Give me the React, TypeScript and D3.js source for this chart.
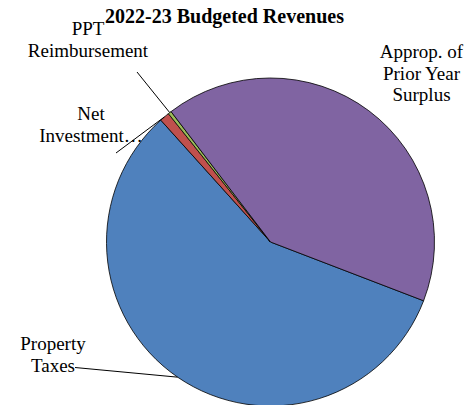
import React from "react";
import * as d3 from "d3";

const categories = ["Property Taxes", "Net Investment", "PPT Reimbursement", "Approp. of Prior Year Surplus"];
const values = [57.5, 0.97, 0.33, 41.2];
const colors = ["#4F81BD", "#C0504D", "#9BBB59", "#8064A2"];
const labelLines = [["Property", "Taxes"], ["Net", "Investment\u2026"], ["PPT", "Reimbursement"], ["Approp. of", "Prior Year", "Surplus"]];

const W = 470, H = 405;
const cx = 270.5, cy = 242, R = 164;
const startDeg = 111;
const FONT = "'Liberation Serif', 'Times New Roman', serif";

// label layout: center x, first baseline, leader start
const labelPos = [
  { x: 53, y: 350, lx: 75, ly: 367.5 },
  { x: 91, y: 120, lx: 116, ly: 153 },
  { x: 88, y: 35, lx: 137, ly: 72 },
  { x: 421.5, y: 58, lx: null, ly: null },
];

export default function App() {
  const pie = d3
    .pie<number>()
    .sort(null)
    .value((d) => d)
    .startAngle((startDeg * Math.PI) / 180)
    .endAngle(((startDeg + 360) * Math.PI) / 180);
  const arcs = pie(values);
  const arc = d3.arc<d3.PieArcDatum<number>>().innerRadius(0).outerRadius(R);

  return (
    <svg width={W} height={H} style={{ position: "absolute", left: 0, top: 0, background: "#fff" }}>
      <rect width={W} height={H} fill="#fff" />
      <g transform={`translate(${cx},${cy})`}>
        {arcs.map((a, i) => (
          <path key={i} d={arc(a) || ""} fill={colors[i]} stroke="#000" strokeWidth={0.8} strokeLinejoin="round" />
        ))}
      </g>
      {arcs.map((a, i) => {
        const p = labelPos[i];
        if (p.lx == null) return null;
        const mid = (a.startAngle + a.endAngle) / 2;
        const ex = cx + R * Math.sin(mid);
        const ey = cy - R * Math.cos(mid);
        return <line key={"l" + i} x1={p.lx} y1={p.ly} x2={ex} y2={ey} stroke="#000" strokeWidth={1} />;
      })}
      {categories.map((c, i) => {
        const p = labelPos[i];
        return (
          <text key={"t" + i} x={p.x} y={p.y} textAnchor="middle" fontFamily={FONT} fontSize={19} fill="#000">
            {labelLines[i].map((ln, j) => (
              <tspan key={j} x={p.x} y={p.y + j * 21.5}>
                {ln}
              </tspan>
            ))}
          </text>
        );
      })}
      <text x={224.5} y={23} textAnchor="middle" fontFamily={FONT} fontWeight="bold" fontSize={20} fill="#000">
        2022-23 Budgeted Revenues
      </text>
    </svg>
  );
}
